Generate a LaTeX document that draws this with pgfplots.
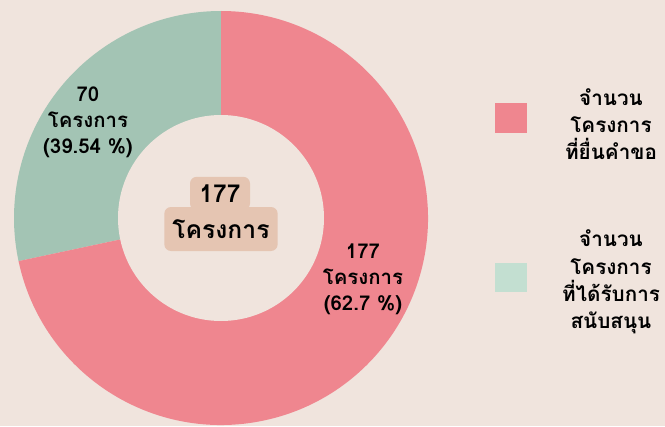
\documentclass[border=0pt]{standalone}
\usepackage{pgfplots}
\pgfplotsset{compat=1.18}
\usepackage{pgfplotstable}
\usepackage{fontspec}
\newfontfamily\thai[Script=Thai]{Loma}
\definecolor{bgc}{HTML}{F0E4DD}
\definecolor{pinkc}{HTML}{EF868F}
\definecolor{greenc}{HTML}{A3C4B4}
\definecolor{lgreenc}{HTML}{C3DFD1}
\definecolor{boxc}{HTML}{E5C5B2}
\tikzset{lbl/.style={font=\thai\bfseries\fontsize{15.3}{19.5}\selectfont,align=center,text=black},
  leg/.style={font=\thai\bfseries\fontsize{15.5}{20.5}\selectfont,align=center,text=black},
  ctr/.style={fill=boxc,rounded corners=5pt,inner sep=0pt,font=\thai\bfseries\fontsize{18.5}{20}\selectfont}}
\pgfplotstableread{
label value
requested 177
funded 70
}\piedata
\begin{document}
\begin{tikzpicture}
\useasboundingbox (0,0) rectangle (498.75pt,319.5pt);
\fill[bgc] (0,0) rectangle (498.75pt,319.5pt);
\pgfplotstablegetelem{0}{value}\of\piedata \edef\va{\pgfplotsretval}
\pgfplotstablegetelem{1}{value}\of\piedata \edef\vb{\pgfplotsretval}
\pgfmathsetmacro\angB{90+360/(\va+\vb)*\vb}
\begin{axis}[at={(0,0)},anchor=south west,x=0.75pt,y=0.75pt,
  xmin=0,xmax=665,ymin=0,ymax=426,hide axis]
\fill[greenc] (axis cs:221,208) -- ++(90:155.25pt) arc[start angle=90,end angle=\angB,radius=155.25pt] -- cycle;
\fill[pinkc] (axis cs:221,208) -- ++(\angB:155.25pt) arc[start angle=\angB,end angle=450,radius=155.25pt] -- cycle;
\fill[bgc] (axis cs:221,208) circle[radius=77.25pt];
% center box
\node[ctr,minimum width=45pt,minimum height=25pt] at (axis cs:220,232.5) {177};
\node[ctr,minimum width=85pt,minimum height=33pt] at (axis cs:221,197) {โครงการ};
% labels
\node[lbl] at (axis cs:88,304) {70\\โครงการ\\(39.54 \%)};
\node[lbl] at (axis cs:363,147) {177\\โครงการ\\(62.7 \%)};
% legend
\fill[pinkc] (axis cs:495,293) rectangle (axis cs:527,323);
\fill[lgreenc] (axis cs:495,134) rectangle (axis cs:527,163);
\node[leg] at (axis cs:611,302) {จำนวน\\โครงการ\\ที่ยื่นคำขอ};
\node[leg] at (axis cs:611,144) {จำนวน\\โครงการ\\ที่ได้รับการ\\สนับสนุน};
\end{axis}
\end{tikzpicture}
\end{document}
